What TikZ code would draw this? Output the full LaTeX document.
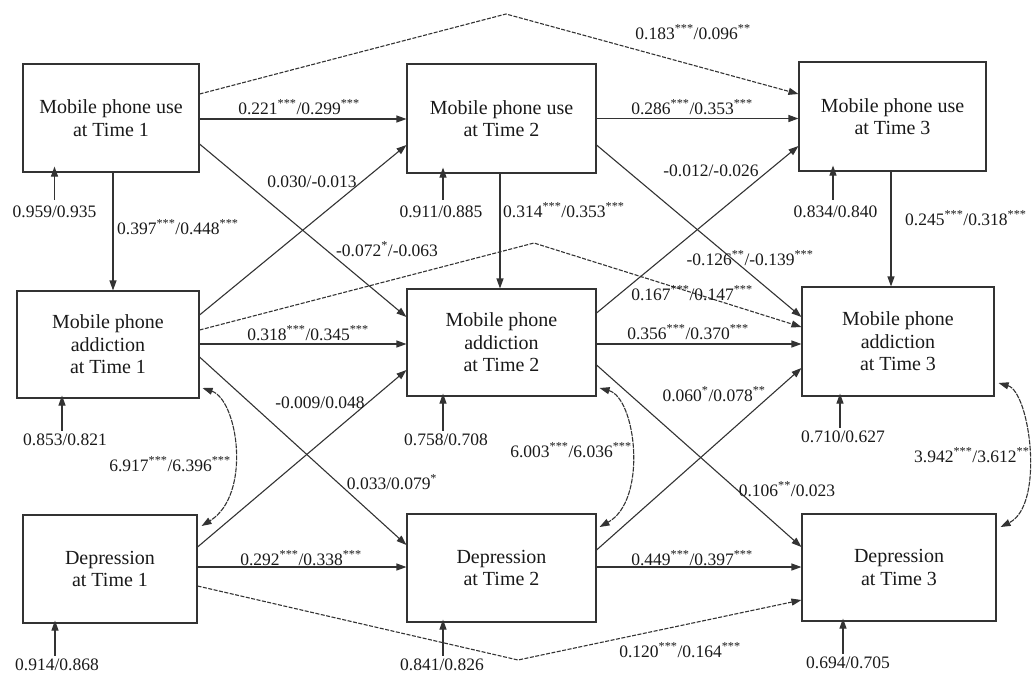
\documentclass[tikz,border=0pt]{standalone}
\usepackage{fontspec}
\setmainfont{Liberation Serif}
\usetikzlibrary{arrows.meta,calc}
\newcommand{\st}[1]{\textsuperscript{#1}}
\begin{document}
\begin{tikzpicture}[x=1pt,y=-1pt,
  font=\fontsize{17.5}{22}\selectfont,
  box/.style={draw=black!80, line width=1.1pt, minimum width=#1, inner sep=0pt, align=center, text=black!90, font=\fontsize{20}{22.5}\selectfont},
  conn/.style={draw=black!80, line width=1.1pt, -{Triangle[length=10pt,width=7pt]}},
  dconn/.style={conn, dash pattern=on 4pt off 1.5pt},
  cov/.style={draw=black!80, line width=1.1pt, {Triangle[length=10pt,width=7pt]}-{Triangle[length=10pt,width=7pt]}, dash pattern=on 5pt off 1pt},
  lbl/.style={inner sep=0pt, text=black!90},
]
\useasboundingbox (0,0) rectangle (1033,673);
% boxes
\node[box=176pt, minimum height=108pt] (U1) at (111,118) {Mobile phone use\\at Time 1};
\node[box=189pt, minimum height=109pt] (U2) at (501.5,118.5) {Mobile phone use\\at Time 2};
\node[box=187pt, minimum height=109pt] (U3) at (892.5,116.5) {Mobile phone use\\at Time 3};
\node[box=182pt, minimum height=107pt] (A1) at (108,344.5) {Mobile phone\\addiction\\at Time 1};
\node[box=189pt, minimum height=107pt] (A2) at (501.5,342.5) {Mobile phone\\addiction\\at Time 2};
\node[box=192pt, minimum height=109pt] (A3) at (898,341.5) {Mobile phone\\addiction\\at Time 3};
\node[box=174pt, minimum height=108pt] (D1) at (110,569) {Depression\\at Time 1};
\node[box=189pt, minimum height=108pt] (D2) at (501.5,568) {Depression\\at Time 2};
\node[box=194pt, minimum height=107pt] (D3) at (899,567.5) {Depression\\at Time 3};

% apex coordinates for the long paths
\coordinate (pU) at (506,14);
\coordinate (pA) at (534,243);
\coordinate (pD) at (518,660);

% horizontal stability paths
\draw[conn] ([yshift=-1]U1.east) -- ([yshift=-1]U1.east -| U2.west);
\draw[conn] ([yshift=0]U2.east) -- (U2.east -| U3.west);
\draw[conn] ([yshift=0.5]A1.east) -- ([yshift=0.5]A1.east -| A2.west);
\draw[conn] ([yshift=-1.5]A2.east) -- ([yshift=-1.5]A2.east -| A3.west);
\draw[conn] ([yshift=2]D1.east) -- ([yshift=2]D1.east -| D2.west);
\draw[conn] ([yshift=1]D2.east) -- ([yshift=1]D2.east -| D3.west);

% long dashed paths
\draw[dconn] ([yshift=24]U1.east) -- (pU) -- ([yshift=22.5]U3.west);
\draw[dconn] ([yshift=14.5]A1.east) -- (pA) -- ([yshift=14.5]A3.west);
\draw[dconn] ([yshift=-17]D1.east) -- (pD) -- ([yshift=-32.5]D3.west);

% vertical paths
\draw[conn] ([xshift=2]U1.south) -- ([xshift=2]U1.south |- A1.north);
\draw[conn] ([xshift=-1.5]U2.south) -- ([xshift=-1.5]U2.south |- A2.north);
\draw[conn] ([xshift=-1.5]U3.south) -- ([xshift=-1.5]U3.south |- A3.north);

% cross-lagged diagonals
\draw[conn] ([yshift=-26]U1.east) -- ([yshift=25.5]A2.west);
\draw[conn] ([yshift=29.5]A1.east) -- ([yshift=-26.5]U2.west);
\draw[conn] ([yshift=-26.5]U2.east) -- ([yshift=24.5]A3.west);
\draw[conn] ([yshift=29.5]A2.east) -- ([yshift=-29.5]U3.west);
\draw[conn] ([yshift=-12.5]A1.east) -- ([yshift=23]D2.west);
\draw[conn] ([yshift=22]D1.east) -- ([yshift=-27.5]A2.west);
\draw[conn] ([yshift=-22.5]A2.east) -- ([yshift=20.5]D3.west);
\draw[conn] ([yshift=18]D2.east) -- ([yshift=-26.5]A3.west);

% covariances
\draw[cov] ([xshift=3,yshift=-43.5]A1.east) .. controls (238,400) and (252,495) .. ([xshift=4,yshift=43]D1.east);
\draw[cov] ([xshift=3,yshift=-45.5]A2.east) .. controls (636,398) and (648,500) .. ([xshift=3,yshift=41]D2.east);
\draw[cov] ([xshift=4,yshift=-41.5]A3.east) .. controls (1030,392) and (1045,505) .. ([xshift=4,yshift=40.5]D3.east);

% residuals
\node[lbl] (eU1) at (54.5,212) {0.959/0.935};
\node[lbl] (eU2) at (441,212) {0.911/0.885};
\node[lbl] (eU3) at (835.5,212) {0.834/0.840};
\node[lbl] (eA1) at (65,440) {0.853/0.821};
\node[lbl] (eA2) at (446,440) {0.758/0.708};
\node[lbl] (eA3) at (843,437) {0.710/0.627};
\node[lbl] (eD1) at (57,665) {0.914/0.868};
\node[lbl] (eD2) at (442,665) {0.841/0.826};
\node[lbl] (eD3) at (848,663) {0.694/0.705};
\draw[conn] ([yshift=6]eU1.north) -- ([yshift=6]eU1.north |- U1.south);
\draw[conn] ([xshift=2,yshift=6]eU2.north) -- ([xshift=2,yshift=6]eU2.north |- U2.south);
\draw[conn] ([xshift=-2.5,yshift=6]eU3.north) -- ([xshift=-2.5,yshift=6]eU3.north |- U3.south);
\draw[conn] ([xshift=-3,yshift=3]eA1.north) -- ([xshift=-3,yshift=3]eA1.north |- A1.south);
\draw[conn] ([xshift=-3,yshift=3]eA2.north) -- ([xshift=-3,yshift=3]eA2.north |- A2.south);
\draw[conn] ([xshift=-3,yshift=3]eA3.north) -- ([xshift=-3,yshift=3]eA3.north |- A3.south);
\draw[conn] ([xshift=-2,yshift=3]eD1.north) -- ([xshift=-2,yshift=3]eD1.north |- D1.south);
\draw[conn] ([xshift=1,yshift=3]eD2.north) -- ([xshift=1,yshift=3]eD2.north |- D2.south);
\draw[conn] ([xshift=-5,yshift=3]eD3.north) -- ([xshift=-5,yshift=3]eD3.north |- D3.south);

% path labels
\node[lbl] (l1) at (299,107) {0.221\st{***}/0.299\st{***}};
\node[lbl] (l2) at (692,107) {0.286\st{***}/0.353\st{***}};
\node[lbl] (l3) at (693,32) {0.183\st{***}/0.096\st{**}};
\node[lbl] (l4) at (312,182) {0.030/-0.013};
\node[lbl] (l5) at (711,171) {-0.012/-0.026};
\node[lbl, anchor=west] (l6) at (117,227) {0.397\st{***}/0.448\st{***}};
\node[lbl, anchor=west] (l7) at (503,210) {0.314\st{***}/0.353\st{***}};
\node[lbl, anchor=west] (l8) at (905,218) {0.245\st{***}/0.318\st{***}};
\node[lbl] (l9) at (387,249) {-0.072\st{*}/-0.063};
\node[lbl] (l10) at (750,258) {-0.126\st{**}/-0.139\st{***}};
\node[lbl] (l11) at (692,293) {0.167\st{***}/0.147\st{***}};
\node[lbl] (l12) at (308,333) {0.318\st{***}/0.345\st{***}};
\node[lbl] (l13) at (688,332) {0.356\st{***}/0.370\st{***}};
\node[lbl] (l14) at (320,403) {-0.009/0.048};
\node[lbl] (l15) at (714,394) {0.060\st{*}/0.078\st{**}};
\node[lbl] (l16) at (170,464) {6.917\st{***}/6.396\st{***}};
\node[lbl] (l17) at (571,450) {6.003\st{***}/6.036\st{***}};
\node[lbl, anchor=west] (l18) at (914,455) {3.942\st{***}/3.612\st{**}};
\node[lbl] (l19) at (392,482) {0.033/0.079\st{*}};
\node[lbl] (l20) at (787,489) {0.106\st{**}/0.023};
\node[lbl] (l21) at (301,558) {0.292\st{***}/0.338\st{***}};
\node[lbl] (l22) at (692,558) {0.449\st{***}/0.397\st{***}};
\node[lbl] (l23) at (680,650) {0.120\st{***}/0.164\st{***}};
\end{tikzpicture}
\end{document}
